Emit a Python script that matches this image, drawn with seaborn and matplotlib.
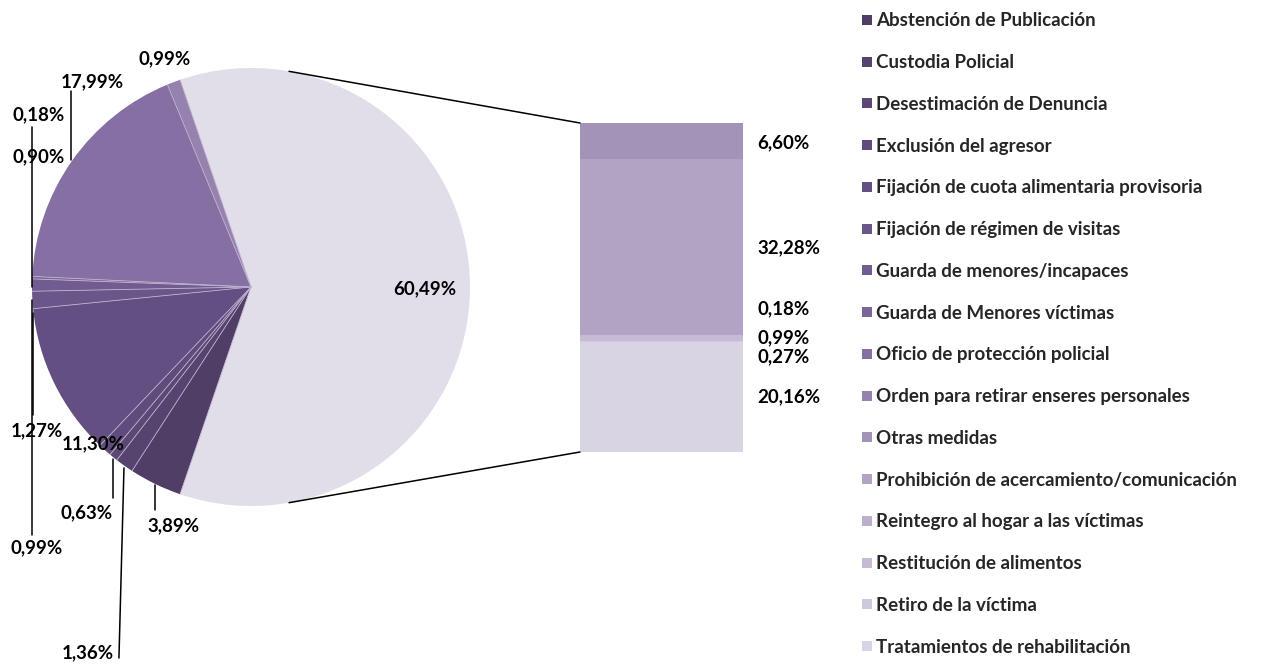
import matplotlib
matplotlib.use("Agg")
import matplotlib.pyplot as plt
import numpy as np
import seaborn as sns
from matplotlib.lines import Line2D
from matplotlib.patches import ConnectionPatch

# pie slices (clockwise, after the grouped slice)
pie_labels = [
    "Abstención de Publicación",
    "Custodia Policial",
    "Desestimación de Denuncia",
    "Exclusión del agresor",
    "Fijación de cuota alimentaria provisoria",
    "Fijación de régimen de visitas",
    "Guarda de menores/incapaces",
    "Guarda de Menores víctimas",
    "Oficio de protección policial",
    "Orden para retirar enseres personales",
]
pie_values = [3.89, 1.36, 0.63, 0.99, 11.30, 1.27, 0.90, 0.18, 17.99, 0.99]
other_value = 60.49

# stacked bar (top to bottom)
bar_labels = [
    "Otras medidas",
    "Prohibición de acercamiento/comunicación",
    "Reintegro al hogar a las víctimas",
    "Restitución de alimentos",
    "Retiro de la víctima",
    "Tratamientos de rehabilitación",
]
bar_values = [6.60, 32.28, 0.18, 0.99, 0.27, 20.16]


def pct(v):
    return f"{v:.2f}%".replace(".", ",")


sns.set_theme(style="white")
plt.rcParams["font.family"] = ["Lato", "DejaVu Sans"]
FS = 13.5
WT = "bold"

palette = [
    "#503E66", "#564370", "#5B4875", "#604C7C", "#644F82", "#6A5689",
    "#705C90", "#7A6699", "#8670A3", "#9582AE", "#A393B8", "#B2A3C5",
    "#BBAFCC", "#C5BBD4", "#CFC9DD", "#D8D4E3", "#E1DDE9",
]
pie_colors = palette[:10] + [palette[16]]
bar_colors = palette[10:16]

W, H = 1279, 664
fig = plt.figure(figsize=(W / 100, H / 100), dpi=100)

# pie axes: centre (251, 287) px, radius 219 px
cx, cy, R = 251, 287, 219
ax_pie = fig.add_axes([(cx - R) / W, (H - cy - R) / H, 2 * R / W, 2 * R / H])
vals = pie_values + [other_value]
start = -180 * other_value / sum(vals)
wedges, _ = ax_pie.pie(
    vals,
    colors=pie_colors,
    startangle=start,
    counterclock=False,
    radius=1,
    wedgeprops=dict(edgecolor="none", linewidth=0),
)
# faint separators between slices
for w in wedges:
    t = np.radians(w.theta1)
    ax_pie.plot([0, np.cos(t)], [0, np.sin(t)], color="#BDB0D0", lw=0.6, zorder=2)
ax_pie.set_xlim(-1, 1)
ax_pie.set_ylim(-1, 1)
ax_pie.set_aspect("equal")
ax_pie.axis("off")

# label positions in radius units (Excel layout)
label_pos = [
    (-0.356, -1.091), (-0.744, -1.671), (-0.749, -1.032), (-0.977, -1.192),
    (-0.721, -0.717), (-0.977, -0.658), (-0.968, 0.594), (-0.968, 0.785),
    (-0.726, 0.936), (-0.393, 1.041),
]
leaders = [
    [(-0.438, -0.904), (-0.438, -1.018)],
    [(-0.580, -0.826), (-0.603, -1.694)],
    [(-0.630, -0.785), (-0.630, -0.963)],
    [(-1.000, -0.060), (-1.000, -1.132)],
    None,
    [(-0.995, -0.119), (-0.995, -0.584)],
    None,
    [(-1.000, 0.731), (-1.000, 0.000)],
    [(-0.822, 0.894), (-0.822, 0.580)],
    None,
]
for v, (x, y), ld in zip(pie_values, label_pos, leaders):
    if ld is not None:
        ax_pie.plot([ld[0][0], ld[1][0]], [ld[0][1], ld[1][1]], color="black",
                    lw=1.1, clip_on=False, zorder=3)
    ax_pie.text(x, y, pct(v), ha="center", va="center", fontsize=FS,
                fontweight=WT, color="black", zorder=4)
ax_pie.text(0.795, -0.009, pct(other_value), ha="center", va="center",
            fontsize=FS, fontweight=WT, color="black")

# stacked bar: px x 580-743, y 123-452
ax_bar = fig.add_axes([580 / W, (H - 452) / H, 163 / W, 329 / H])
bottom_up = list(zip(bar_values[::-1], bar_colors[::-1]))
cums = np.cumsum([v for v, _ in bottom_up])
total = cums[-1]
for c, (_, col) in zip(cums[::-1], bottom_up[::-1]):
    sns.barplot(x=["g"], y=[c], color=col, width=1, saturation=1, ax=ax_bar,
                linewidth=0, edgecolor="none")
ax_bar.set_xlim(-0.5, 0.5)
ax_bar.set_ylim(0, total)
ax_bar.axis("off")

label_shift = [-1, -1, 19, 0, -11, 0]
lows = np.concatenate([[0], cums[:-1]])[::-1]
for v, low, dy in zip(bar_values, lows, label_shift):
    ax_bar.annotate(pct(v), xy=(1.086, low + v / 2), xycoords=("axes fraction", "data"),
                    xytext=(0, dy), textcoords="offset points", ha="left",
                    va="center", fontsize=FS, fontweight=WT, color="black")

# connector lines from the grouped slice to the bar
for ang, yb in [(80, total), (-80, 0)]:
    con = ConnectionPatch(
        xyA=(np.cos(np.radians(ang)), np.sin(np.radians(ang))), coordsA=ax_pie.transData,
        xyB=(-0.5, yb), coordsB=ax_bar.transData, color="black", lw=1.1,
    )
    fig.add_artist(con)

# legend
handles = [
    Line2D([], [], marker="s", linestyle="none", markersize=7, color=c, markeredgewidth=0)
    for c in pie_colors[:10] + bar_colors
]
fig.legend(
    handles, pie_labels + bar_labels, loc="upper left",
    bbox_to_anchor=(852 / W, 1 - 3 / H), frameon=False,
    handlelength=0.55, handletextpad=0.25, labelspacing=1.32, borderpad=0,
    prop=dict(weight=WT, size=FS),
)

fig.savefig("out.png", dpi=100)
